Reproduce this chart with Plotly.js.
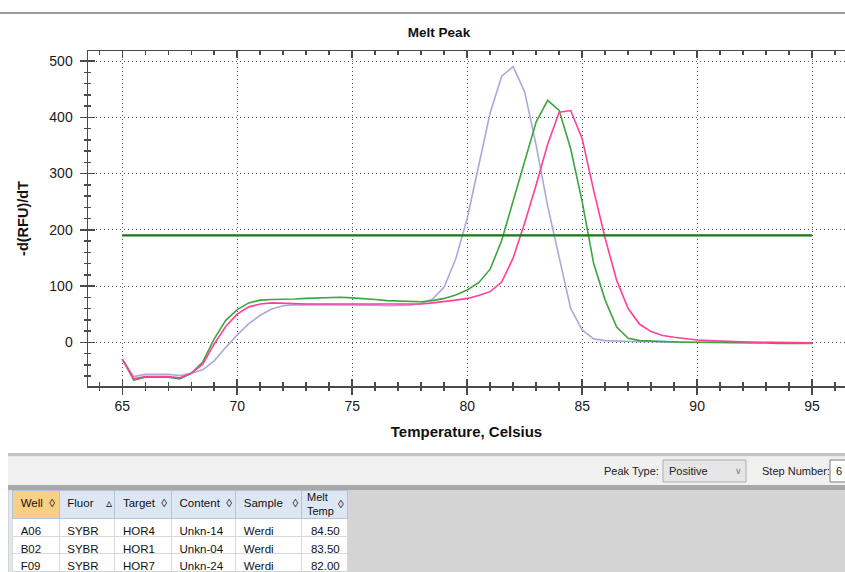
<!DOCTYPE html>
<html><head><meta charset="utf-8">
<script src="https://cdn.plot.ly/plotly-3.0.1.min.js"></script>
<style>html,body{margin:0;padding:0;background:#fff;} #chart{width:845px;height:572px;}</style>
</head><body><div id="chart"></div>
<script>
// ---------- data ----------
const temps = [65,65.5,66,66.5,67,67.5,68,68.5,69,69.5,
  70,70.5,71,71.5,72,72.5,73,73.5,74,74.5,
  75,75.5,76,76.5,77,77.5,78,78.5,79,79.5,
  80,80.5,81,81.5,82,82.5,83,83.5,84,84.5,
  85,85.5,86,86.5,87,87.5,88,88.5,89,89.5,
  90,90.5,91,91.5,92,92.5,93,93.5,94,94.5,95];
const rfuA06 = [-30,-65,-61,-61,-61,-63,-55,-39,-3,28,
  50,63,68,70,69,68,68,68,68,68,
  68,68,68,68,67,67,68,70,72,75,
  78,83,90,107,150,212,280,352,409,412,
  362,270,185,110,60,32,19,12,9,6,
  4,3,2,1,0,0,0,0,-1,-1,-1];
const rfuB02 = [-30,-67,-62,-62,-62,-65,-55,-35,6,39,
  58,70,75,76,76,77,78,79,80,80,
  79,78,76,74,73,72,72,74,78,84,
  93,106,130,181,250,320,392,430,412,344,
  250,140,75,27,7,3,2,1,1,0,
  0,0,0,0,-1,-1,-1,-2,-2,-3,-2];
const rfuF09 = [-30,-61,-57,-57,-57,-59,-55,-49,-33,-9,
  13,33,48,59,65,67,67,67,67,67,
  67,66,66,65,65,66,69,77,98,148,
  220,312,408,473,490,445,350,242,148,60,
  22,6,3,2,1,1,1,0,0,0,
  0,0,0,-1,-1,-1,-1,-1,-1,-1,-1];
const thresholdX = [65, 95];
const thresholdY = [190, 190];

const wells = ['A06','B02','F09'];
const fluors = ['SYBR','SYBR','SYBR'];
const targets = ['HOR4','HOR1','HOR7'];
const contents = ['Unkn-14','Unkn-04','Unkn-24'];
const samples = ['Werdi','Werdi','Werdi'];
const meltTemps = ['84.50','83.50','82.00'];
const headerLabels = ['Well','Fluor','Target','Content','Sample','Melt<br>Temp'];
const headerIcons = ['\u25CA','\u25B5','\u25CA','\u25CA','\u25CA','\u25CA'];

// ---------- helpers (pixel -> paper) ----------
const W = 845, H = 572;
const px = v => v / W;
const py = v => 1 - v / H;
const FONT = 'Liberation Sans, Arial, sans-serif';
const AX = '#4a4a4a';

const xRange = [63.51, 96.43];
const yRange = [-77.7, 517.8];

// table geometry (style)
const tableLeft = 12.7, tableRight = 348;
const colWidths = [46.6,55.7,56.7,64.3,66,46];
const colEdges = [tableLeft];
colWidths.forEach(w => colEdges.push(colEdges[colEdges.length-1] + w));
const headerTop = 490, headerH = 28.5, rowH = 17.5;

// single-line headers go in the table; the two-line one is laid over its cell
const nbspPad = [1,3,1,1,2,0];
const tableHeader = headerLabels.map((h, i) =>
  h.includes('<br>') ? '' : h + '\u00a0'.repeat(nbspPad[i] + 1) + headerIcons[i]);

const headerAnn = [];
headerLabels.forEach((h, i) => {
  if (h.includes('<br>')) {
    headerAnn.push({xref:'paper', yref:'paper', x:px(colEdges[i] + 3), y:py(headerTop + headerH/2), xanchor:'left', yanchor:'middle',
      showarrow:false, text:h, align:'left', font:{family:FONT, size:11, color:'#111'}});
    headerAnn.push({xref:'paper', yref:'paper', x:px(colEdges[i+1] - 7), y:py(headerTop + headerH/2), xanchor:'center', yanchor:'middle',
      showarrow:false, text:headerIcons[i], font:{family:FONT, size:11.5, color:'#111'}});
  }
});

const traces = [
  {x: temps, y: rfuF09, type:'scatter', mode:'lines', line:{color:'#a9a9dc', width:1.6}, hoverinfo:'skip'},
  {x: temps, y: rfuB02, type:'scatter', mode:'lines', line:{color:'#3ea53e', width:1.6}, hoverinfo:'skip'},
  {x: temps, y: rfuA06, type:'scatter', mode:'lines', line:{color:'#ff3f9a', width:1.6}, hoverinfo:'skip'},
  {x: thresholdX, y: thresholdY, type:'scatter', mode:'lines', line:{color:'#137a13', width:2.2}, hoverinfo:'skip'},
  {x: [], y: [], xaxis:'x2', yaxis:'y', type:'scatter', hoverinfo:'skip'},
  {x: [], y: [], xaxis:'x', yaxis:'y2', type:'scatter', hoverinfo:'skip'},
  {
    type:'table',
    domain:{x:[px(tableLeft), px(tableRight)], y:[0, py(headerTop)]},
    columnwidth:colWidths,
    header:{
      values: tableHeader,
      align:['left','left','left','left','left','right'],
      fill:{color:['#f9cf86','#dde7f3','#dde7f3','#dde7f3','#dde7f3','#dde7f3']},
      line:{color:'#b3c4da', width:1},
      font:{family:FONT, size:11.5, color:'#111'},
      height:headerH
    },
    cells:{
      values:[wells, fluors, targets, contents, samples, meltTemps],
      align:['left','left','left','left','left','right'],
      fill:{color:'#ffffff'},
      line:{color:'#d9d9d9', width:1},
      font:{family:FONT, size:11.5, color:'#111'},
      height:rowH
    }
  }
];

const tickCommon = {
  ticks:'outside', ticklen:7, tickwidth:1.5, tickcolor:AX,
  showline:true, linecolor:AX, linewidth:1.5, zeroline:false,
  showgrid:true, gridcolor:'#555', gridwidth:1, griddash:'1px,3px',
  tickfont:{family:FONT, size:14, color:'#1a1a1a'},
  automargin:false, fixedrange:true
};

const layout = {
  width:W, height:H,
  margin:{l:0, r:0, t:0, b:0, pad:0},
  paper_bgcolor:'#ffffff', plot_bgcolor:'#ffffff',
  showlegend:false,
  title:{text:'Melt Peak', x:px(439), xanchor:'center', y:py(32), yanchor:'middle',
         font:{family:FONT, size:13.5, weight:700, color:'#111'}},
  xaxis: Object.assign({}, tickCommon, {
    domain:[px(88), 1], range:xRange, tick0:65, dtick:5,
    minor:{tick0:65, dtick:1, ticks:'outside', ticklen:3, tickwidth:1.5, tickcolor:AX, showgrid:false},
    title:{text:'Temperature, Celsius', font:{family:FONT, size:15, weight:700, color:'#111'}, standoff:13}
  }),
  yaxis: Object.assign({}, tickCommon, {
    domain:[py(386), py(51)], range:yRange, tick0:0, dtick:100, ticklabelstandoff:4,
    minor:{tick0:0, dtick:20, ticks:'outside', ticklen:3, tickwidth:1.5, tickcolor:AX, showgrid:false},
    title:{text:'-d(RFU)/dT', font:{family:FONT, size:14.5, weight:700, color:'#111'}, standoff:17}
  }),
  xaxis2: {
    overlaying:'x', anchor:'y', side:'bottom', range:xRange, tick0:65, dtick:5,
    ticks:'inside', ticklen:7, tickwidth:1.5, tickcolor:AX, showticklabels:false,
    showline:true, linecolor:AX, linewidth:1.5, mirror:'ticks', showgrid:false, zeroline:false,
    minor:{tick0:65, dtick:1, ticks:'inside', ticklen:4, tickwidth:1.5, tickcolor:AX, showgrid:false},
    fixedrange:true
  },
  yaxis2: {
    overlaying:'y', anchor:'x', side:'left', range:yRange, tick0:0, dtick:100,
    ticks:'inside', ticklen:7, tickwidth:1.5, tickcolor:AX, showticklabels:false,
    showline:true, linecolor:AX, linewidth:1.5, showgrid:false, zeroline:false,
    minor:{tick0:0, dtick:20, ticks:'inside', ticklen:3, tickwidth:1.5, tickcolor:AX, showgrid:false},
    fixedrange:true
  },
  shapes:[
    {type:'line', xref:'paper', yref:'paper', x0:0, x1:1, y0:py(13), y1:py(13), line:{color:'#9a9a9a', width:2}},
    {type:'rect', xref:'paper', yref:'paper', x0:px(8), x1:1, y0:py(456.5), y1:py(453), fillcolor:'#c4c4c4', line:{width:0}, layer:'below'},
    {type:'rect', xref:'paper', yref:'paper', x0:px(8), x1:1, y0:py(485), y1:py(456.5), fillcolor:'#f0f0f0', line:{width:0}, layer:'below'},
    {type:'rect', xref:'paper', yref:'paper', x0:px(8), x1:1, y0:py(490), y1:py(485), fillcolor:'#a8a8a8', line:{width:0}, layer:'below'},
    {type:'rect', xref:'paper', yref:'paper', x0:px(8), x1:1, y0:0, y1:py(490), fillcolor:'#d4d4d4', line:{width:0}, layer:'below'},
    {type:'rect', xref:'paper', yref:'paper', x0:px(9), x1:px(12.7), y0:0, y1:py(490), fillcolor:'#dfe7f1', line:{width:0}, layer:'below'},
    {type:'rect', xref:'paper', yref:'paper', x0:px(663), x1:px(746), y0:py(482), y1:py(460), fillcolor:'#e6e6e6', line:{color:'#adadad', width:1}, layer:'below'},
    {type:'rect', xref:'paper', yref:'paper', x0:px(830), x1:px(850), y0:py(482), y1:py(460), fillcolor:'#ffffff', line:{color:'#7a7a7a', width:1}, layer:'below'}
  ],
  annotations:[
    {xref:'paper', yref:'paper', x:px(602), y:py(471), xanchor:'left', yanchor:'middle', showarrow:false, text:'Peak Type:', font:{family:FONT, size:11, color:'#222'}},
    {xref:'paper', yref:'paper', x:px(667), y:py(471), xanchor:'left', yanchor:'middle', showarrow:false, text:'Positive', font:{family:FONT, size:11, color:'#222'}},
    {xref:'paper', yref:'paper', x:px(738), y:py(471), xanchor:'center', yanchor:'middle', showarrow:false, text:'\u2228', font:{family:'DejaVu Sans', size:9, color:'#777'}},
    {xref:'paper', yref:'paper', x:px(760), y:py(471), xanchor:'left', yanchor:'middle', showarrow:false, text:'Step Number:', font:{family:FONT, size:11, color:'#222'}},
    {xref:'paper', yref:'paper', x:px(834), y:py(471), xanchor:'left', yanchor:'middle', showarrow:false, text:'6', font:{family:FONT, size:11, color:'#222'}}
  ].concat(headerAnn)
};

Plotly.newPlot('chart', traces, layout, {staticPlot:true, displayModeBar:false});
</script>
</body></html>
